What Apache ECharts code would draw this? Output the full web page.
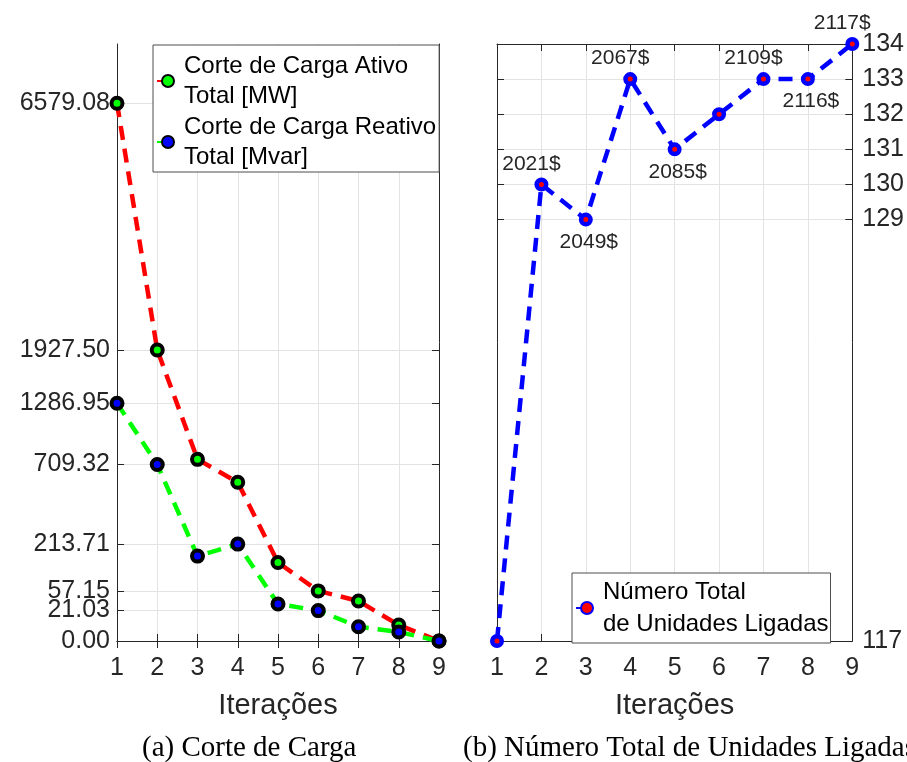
<!DOCTYPE html>
<html>
<head>
<meta charset="utf-8">
<script src="https://cdn.jsdelivr.net/npm/echarts@6/dist/echarts.min.js"></script>
<style>
  html, body { margin: 0; padding: 0; background: #fff; }
  #chart { width: 907px; height: 762px; }
</style>
</head>
<body>
<div id="chart"></div>
<script>
// Iterations of the load-shedding procedure
const iterations = [1, 2, 3, 4, 5, 6, 7, 8, 9];

// (a) Load shedding per iteration
const activeCut   = [6579.08, 1927.50, 751, 573, 140, 57.15, 36.4, 5.8, 0];   // MW
const reactiveCut = [1286.95, 709.32, 164, 213.71, 31.2, 21.03, 4.65, 1.84, 0]; // Mvar
const cutTicks    = [0, 21.03, 57.15, 213.71, 709.32, 1286.95, 1927.50, 6579.08];
const cutAxisMax  = 8110;

// (b) Committed units per iteration and cost annotations
const unitsOn    = [117, 130, 129, 133, 131, 132, 133, 133, 134];
const unitTicks  = [117, 129, 130, 131, 132, 133, 134];
const costLabels = ['', '2021$', '2049$', '2067$', '2085$', '', '2109$', '2116$', '2117$'];

// Square-root scale for the load-shedding axis
const fwd = v => Math.sqrt(v);
const inv = v => v * v;

const AX = '#262626';
const GRID = '#e3e3e3';
const SANS = 'Liberation Sans';
const TICK_FONT = 25;

function xAxisBase(gridIndex, position, withLabels) {
  return {
    type: 'value', gridIndex, position, min: 1, max: 9, interval: 1,
    axisLine: { show: true, lineStyle: { color: AX, width: 1 } },
    axisTick: { show: true, inside: true, length: 7, lineStyle: { color: AX } },
    axisLabel: { show: withLabels, color: AX, fontFamily: SANS, fontSize: TICK_FONT, margin: 15 },
    splitLine: { show: withLabels, lineStyle: { color: GRID, width: 1 } },
    name: withLabels ? 'Iterações' : '',
    nameLocation: 'middle', nameGap: 50,
    nameTextStyle: { color: AX, fontFamily: SANS, fontSize: 29 }
  };
}

function yAxisBase(gridIndex, position, withLabels, min, max, ticks, fmt, margin) {
  return {
    type: 'value', gridIndex, position, min, max,
    axisLine: { show: true, onZero: false, lineStyle: { color: AX, width: 1 } },
    axisTick: { show: true, inside: true, length: 7, lineStyle: { color: AX }, customValues: ticks },
    axisLabel: { show: withLabels, color: AX, fontFamily: SANS, fontSize: TICK_FONT,
                 margin, customValues: ticks, formatter: fmt },
    splitLine: { show: withLabels, lineStyle: { color: GRID, width: 1 } }
  };
}

const cutTickPos = cutTicks.map(fwd);
const cutFmt = v => inv(v).toFixed(2);
const unitFmt = v => String(Math.round(v));

const dashed = [14, 9];

const unitData = iterations.map((x, i) => {
  const up = i > 0 && unitsOn[i] > unitsOn[i - 1];
  return {
    value: [x, unitsOn[i]],
    label: {
      show: costLabels[i] !== '',
      formatter: costLabels[i],
      position: up ? 'top' : 'bottom',
      distance: up ? 3 : 5,
      offset: up ? [-10, 0] : [3, 0]
    }
  };
});

const option = {
  animation: false,
  backgroundColor: '#fff',
  grid: [
    { left: 117, top: 44, width: 322, height: 597, containLabel: false },
    { left: 497, top: 44, width: 356, height: 597, containLabel: false }
  ],
  xAxis: [
    xAxisBase(0, 'bottom', true),
    xAxisBase(0, 'top', false),
    xAxisBase(1, 'bottom', true),
    xAxisBase(1, 'top', false)
  ],
  yAxis: [
    yAxisBase(0, 'left', true, 0, fwd(cutAxisMax), cutTickPos, cutFmt, 7),
    yAxisBase(0, 'right', false, 0, fwd(cutAxisMax), cutTickPos, cutFmt, 7),
    yAxisBase(1, 'right', true, 117, 134, unitTicks, unitFmt, 10),
    yAxisBase(1, 'left', false, 117, 134, unitTicks, unitFmt, 10)
  ],
  legend: [
    {
      left: 153, top: 45,
      orient: 'vertical',
      data: ['Corte de Carga Ativo\nTotal [MW]', 'Corte de Carga Reativo\nTotal [Mvar]'],
      itemWidth: 22, itemHeight: 15, itemGap: 1,
      padding: [6, 3, 0, 3],
      backgroundColor: '#fff',
      borderColor: '#4d4d4d', borderWidth: 1, borderRadius: 0,
      textStyle: { color: '#000', fontFamily: SANS, fontSize: 24, lineHeight: 30 }
    },
    {
      left: 572, top: 573,
      orient: 'vertical',
      data: ['Número Total\nde Unidades Ligadas'],
      itemWidth: 22, itemHeight: 15,
      padding: [3, 2, 3, 3],
      backgroundColor: '#fff',
      borderColor: '#4d4d4d', borderWidth: 1, borderRadius: 0,
      textStyle: { color: '#000', fontFamily: SANS, fontSize: 24, lineHeight: 32 }
    }
  ],
  series: [
    {
      name: 'Corte de Carga Ativo\nTotal [MW]',
      type: 'line', xAxisIndex: 0, yAxisIndex: 0, clip: false,
      data: iterations.map((x, i) => [x, fwd(activeCut[i])]),
      lineStyle: { color: '#ff0000', width: 4.5, type: dashed },
      symbol: 'circle', symbolSize: 11,
      itemStyle: { color: '#00ff00', borderColor: '#000', borderWidth: 4 },
      z: 3
    },
    {
      name: 'Corte de Carga Reativo\nTotal [Mvar]',
      type: 'line', xAxisIndex: 0, yAxisIndex: 0, clip: false,
      data: iterations.map((x, i) => [x, fwd(reactiveCut[i])]),
      lineStyle: { color: '#00ff00', width: 4.5, type: dashed },
      symbol: 'circle', symbolSize: 11,
      itemStyle: { color: '#0000ff', borderColor: '#000', borderWidth: 4 },
      z: 4
    },
    {
      name: 'Número Total\nde Unidades Ligadas',
      type: 'line', xAxisIndex: 2, yAxisIndex: 2, clip: false,
      data: unitData,
      lineStyle: { color: '#0000ff', width: 4.5, type: dashed },
      symbol: 'circle', symbolSize: 9.5,
      itemStyle: { color: '#ff0000', borderColor: '#0000ff', borderWidth: 4.5 },
      label: { color: AX, fontFamily: SANS, fontSize: 21 },
      z: 3
    }
  ],
  graphic: [
    {
      type: 'text', left: 142, top: 734,
      style: { text: '(a) Corte de Carga', fill: '#000', font: '29px "Liberation Serif"' }
    },
    {
      type: 'text', left: 463, top: 734,
      style: { text: '(b) Número Total de Unidades Ligadas', fill: '#000', font: '29px "Liberation Serif"' }
    }
  ]
};

const chart = echarts.init(document.getElementById('chart'), null, { renderer: 'canvas' });
chart.setOption(option);
</script>
</body>
</html>
